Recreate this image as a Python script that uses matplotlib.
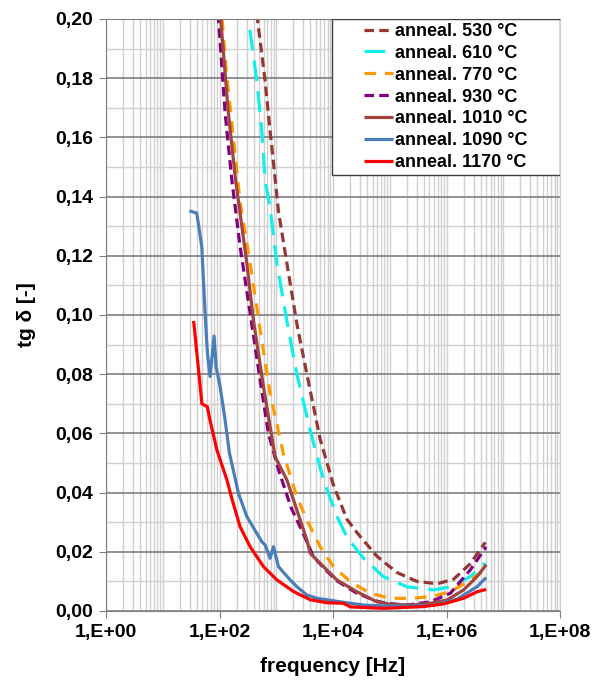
import matplotlib
matplotlib.use('Agg')
import matplotlib.pyplot as plt
import numpy as np
from matplotlib.ticker import FixedLocator, FuncFormatter, MultipleLocator, NullFormatter
from matplotlib.patches import Rectangle

plt.rcParams['font.family'] = ['Liberation Sans', 'DejaVu Sans']
plt.rcParams['font.weight'] = 'bold'

# valores (frequência em Hz, tg delta)
f_530 = [400, 466, 637, 780, 957, 1094, 1538, 2308, 3467, 5943, 10200, 17600, 26400,
         59400, 134000, 302000, 679000, 1.33e6, 2.63e6, 4.83e6]
tg_530 = [0.215, 0.200, 0.179, 0.162, 0.146, 0.135, 0.1175, 0.097, 0.080, 0.058, 0.0425,
          0.031, 0.0265, 0.0185, 0.0130, 0.0100, 0.0092, 0.0107, 0.0160, 0.0232]

f_610 = [280, 323, 455, 557, 637, 780, 1025, 1538, 2308, 3963, 6795, 11720, 17600,
         34500, 77800, 201000, 592000, 1.17e6, 2.63e6, 4.83e6]
tg_610 = [0.215, 0.200, 0.179, 0.162, 0.1456, 0.136, 0.1175, 0.098, 0.080, 0.061, 0.0443,
          0.032, 0.025, 0.0178, 0.0116, 0.0082, 0.0071, 0.0082, 0.0116, 0.0162]

f_770 = [95, 111, 131, 231, 347, 520, 780, 1340, 2308, 3467, 5943, 10200, 20100,
         45300, 102000, 230000, 518000, 1.17e6, 2.63e6, 4.83e6]
tg_770 = [0.215, 0.200, 0.183, 0.138, 0.1175, 0.095, 0.0735, 0.053, 0.0386, 0.0307, 0.0217,
          0.0150, 0.0099, 0.0060, 0.0043, 0.0043, 0.0048, 0.0065, 0.0105, 0.0140]

f_930 = [80, 96, 126, 165, 231, 347, 520, 728, 1100, 1820, 3020, 4530, 7800, 11700,
         26400, 59400, 89300, 201000, 518000, 1.17e6, 2.63e6, 5.0e6]
tg_930 = [0.222, 0.200, 0.168, 0.1456, 0.123, 0.1006, 0.078, 0.060, 0.0476, 0.035, 0.026,
          0.0183, 0.0135, 0.0102, 0.0060, 0.0033, 0.0026, 0.0020, 0.0031, 0.0060, 0.0139, 0.0217]

f_1010 = [90, 105, 142, 192, 303, 396, 595, 957, 1538, 2308, 3467, 3963, 5943, 11720,
          26400, 59400, 102000, 230000, 518000, 1.02e6, 2.0e6, 3.45e6, 5.0e6]
tg_1010 = [0.215, 0.200, 0.169, 0.1456, 0.1175, 0.0983, 0.0758, 0.0521, 0.0443, 0.0341,
           0.0240, 0.0195, 0.0161, 0.0105, 0.0065, 0.0031, 0.0023, 0.0020, 0.0026, 0.0037,
           0.0071, 0.0116, 0.0156]

f_1090 = [29.4, 39.8, 48.7, 55.7, 61.2, 68.3, 80.3, 87.1, 102.5, 125.6, 149.5, 215, 303,
          557, 637, 780, 893, 1094, 1759, 2308, 3467, 5200, 13400, 34500, 77800, 230000,
          592000, 1.53e6, 3.45e6, 5.0e6]
tg_1090 = [0.1352, 0.1344, 0.1231, 0.1007, 0.0872, 0.0792, 0.0929, 0.0825, 0.0758, 0.0645,
           0.0534, 0.0399, 0.0319, 0.0234, 0.0223, 0.0178, 0.0217, 0.0150, 0.0105, 0.0082,
           0.0054, 0.0043, 0.0031, 0.0020, 0.0017, 0.0017, 0.0020, 0.0040, 0.0082, 0.0113]

f_1170 = [35, 49, 61, 68, 90, 135, 165, 230, 347, 595, 1025, 2010, 3960, 7800, 15300,
          20100, 45300, 77800, 175000, 394000, 889000, 2.0e6, 3.45e6, 5.0e6]
tg_1170 = [0.098, 0.070, 0.069, 0.0645, 0.0544, 0.0443, 0.0380, 0.0285, 0.0217, 0.0150,
           0.0105, 0.0066, 0.0038, 0.0028, 0.0026, 0.0014, 0.0011, 0.0009, 0.0012, 0.0015,
           0.0024, 0.0043, 0.0065, 0.0073]

series = [
    ('anneal. 530 °C', f_530, tg_530, '#953735', (3.0, 1.6)),
    ('anneal. 610 °C', f_610, tg_610, '#11EEEE', (6.5, 3.2)),
    ('anneal. 770 °C', f_770, tg_770, '#FF9900', (3.6, 2.8)),
    ('anneal. 930 °C', f_930, tg_930, '#800080', (3.0, 1.6)),
    ('anneal. 1010 °C', f_1010, tg_1010, '#A0453F', None),
    ('anneal. 1090 °C', f_1090, tg_1090, '#4A7EBB', None),
    ('anneal. 1170 °C', f_1170, tg_1170, '#FF0000', None),
]

fig = plt.figure(figsize=(6.08, 6.82), dpi=100)
ax = fig.add_axes([106/608, 71/682, 454/608, 592/682])

for nome, f, tg, cor, tracos in series:
    linha, = ax.plot(f, tg, color=cor, lw=2.3, label=nome, solid_capstyle='butt')
    if tracos is not None:
        linha.set_dashes(tracos)
        linha.set_dash_capstyle('butt')

ax.set_xscale('log')
ax.set_xlim(1, 1e8)
ax.set_ylim(0, 0.2)

# eixo x: rótulos só nas décadas pares, grade em todas
ax.xaxis.set_major_locator(FixedLocator([1e0, 1e2, 1e4, 1e6, 1e8]))
minores = [m * 10.0**d for d in range(0, 8) for m in range(1, 10)]
ax.xaxis.set_minor_locator(FixedLocator(minores))
ax.xaxis.set_major_formatter(FuncFormatter(lambda v, p: '1,E+%02d' % int(round(np.log10(v)))))
ax.xaxis.set_minor_formatter(NullFormatter())

ax.yaxis.set_major_locator(MultipleLocator(0.02))
ax.yaxis.set_minor_locator(MultipleLocator(0.01))
ax.yaxis.set_major_formatter(FuncFormatter(lambda v, p: ('%.2f' % v).replace('.', ',')))

ax.grid(which='minor', axis='x', color='#D0D0D0', lw=1.0)
ax.grid(which='major', axis='x', color='#D0D0D0', lw=1.0)
ax.grid(which='minor', axis='y', color='#D0D0D0', lw=1.0)
ax.grid(which='major', axis='y', color='#7F7F7F', lw=1.2)
ax.set_axisbelow(True)

ax.tick_params(which='major', direction='out', length=5, color='#7F7F7F', labelsize=14, pad=4)
ax.tick_params(which='minor', length=0)
for lab in ax.get_xticklabels() + ax.get_yticklabels():
    lab.set_fontweight('bold')

ax.spines['left'].set_color('#7F7F7F')
ax.spines['bottom'].set_color('#7F7F7F')
ax.spines['top'].set_color('#7F7F7F')
ax.spines['right'].set_color('#D0D0D0')

ax.set_xlabel('frequency [Hz]', fontsize=15, fontweight='bold', labelpad=12)
ax.set_ylabel('tg δ [-]', fontsize=15, fontweight='bold', labelpad=14)

# caixa da legenda
x0, y0 = (332 - 106) / 454, (611 - 175) / 592
ax.add_patch(Rectangle((x0, y0), 1 - x0, 1 - y0, transform=ax.transAxes,
                       facecolor='white', edgecolor='#404040', lw=1.0, zorder=5))
leg = ax.legend(loc='center', bbox_to_anchor=((x0 + 1) / 2, (y0 + 1) / 2),
                frameon=False, handlelength=1.6, handletextpad=0.1,
                labelspacing=0.27, borderpad=0.2, prop={'weight': 'bold', 'size': 13})
leg.set_zorder(6)

plt.savefig('out.png', dpi=100)
